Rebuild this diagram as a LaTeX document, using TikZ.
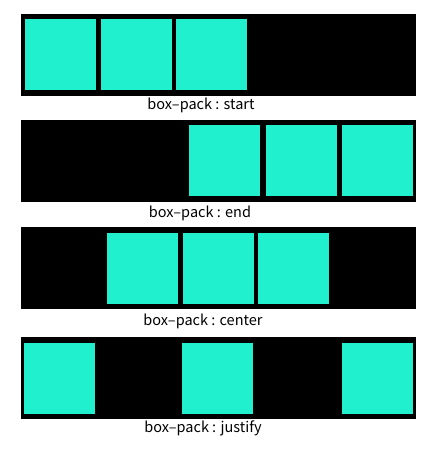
\documentclass[tikz,border=0pt]{standalone}
\usepackage{fontspec}
\newfontfamily\capfont{Noto Sans CJK KR}
\definecolor{teal}{RGB}{32,240,206}
\tikzset{
  panel/.style={fill=black, draw=none, inner sep=0pt, outer sep=0pt, minimum width=395pt, minimum height=82pt, anchor=north west},
  item/.style={fill=teal, draw=none, inner sep=0pt, outer sep=0pt, minimum width=71pt, minimum height=71pt, anchor=north west},
  caption/.style={font=\capfont\fontsize{14.5}{16}\selectfont, inner sep=0pt, anchor=center}
}
\begin{document}
\begin{tikzpicture}[x=1pt, y=-1pt]
\useasboundingbox (0,0) rectangle (439,457);
% panel 1: start
\node[panel] (p1) at (21,14) {};
\node[item] (p1a) at (25,19) {};
\node[item] (p1b) at (101,19) {};
\node[item] (p1c) at (176,19) {};
\node[caption] (c1) at (201,105) {box–pack : start};
% panel 2: end
\node[panel] (p2) at (21,120) {};
\node[item] (p2a) at (189,125) {};
\node[item] (p2b) at (266,125) {};
\node[item] (p2c) at (342,125) {};
\node[caption] (c2) at (200,213) {box–pack : end};
% panel 3: center
\node[panel] (p3) at (21,227) {};
\node[item] (p3a) at (107,233) {};
\node[item] (p3b) at (183,233) {};
\node[item] (p3c) at (258,233) {};
\node[caption] (c3) at (203,321) {box–pack : center};
% panel 4: justify
\node[panel] (p4) at (21,337) {};
\node[item] (p4a) at (24,343) {};
\node[item] (p4b) at (182,343) {};
\node[item] (p4c) at (342,343) {};
\node[caption] (c4) at (203,428) {box–pack : justify};
\end{tikzpicture}
\end{document}
